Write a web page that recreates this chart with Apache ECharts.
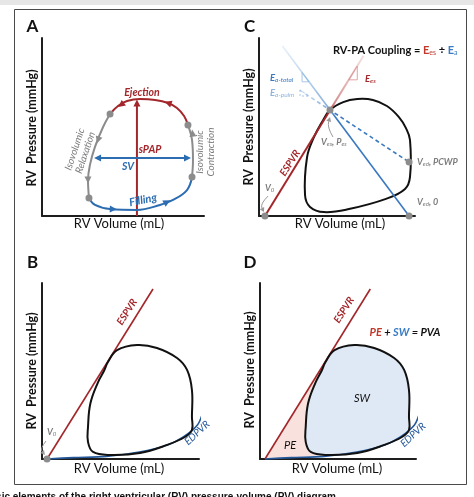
<!DOCTYPE html>
<html><head><meta charset="utf-8">
<script src="https://cdn.jsdelivr.net/npm/echarts/dist/echarts.min.js"></script>
<style>html,body{margin:0;padding:0;background:#fff}#c{width:474px;height:497px}</style>
</head><body><div id="c"></div><script>
// ---------- DATA (schematic units: 0-100 along each axis) ----------
// Panel A: PV loop phases
const aEjection    = [[90.1,51.1],[87.7,56.2],[83.3,60.7],[77.8,63.5],[69.8,65.2],[60.5,65.7],[52.5,64.6],[46.9,61.8],[42,57.3]];
const aRelaxation  = [[42,57.3],[37.7,50],[32.7,38.8],[29.6,28.7],[28.4,20.2],[29,10.1]];
const aFilling     = [[29,10.1],[32.7,6.2],[42,3.9],[58.6,3.4],[72.8,6.2],[80.9,9],[89.5,14.6],[92.6,21.9]];
const aContraction = [[92.6,21.9],[93.2,31.5],[92.6,42.7],[90.1,51.1]];
const aCorners     = [[42,57.3],[90.1,51.1],[92.6,21.9],[29,10.1]];
const aSPAP        = [[58.6,0],[58.6,63.5]];
const aSV          = [[34.3,32.6],[89.8,32.6]];
// arrowheads: [x, y, dirX, dirY]
const aArrowsRed   = [[77.8,63.5,-1,0.33],[48.8,62.4,-1,-0.7],[58.6,63.5,0,1]];
const aArrowsBlue  = [[44,3.8,1,-0.03],[77.2,7.9,1,0.5],[34.3,32.6,-1,0],[89.8,32.6,1,0]];
const aArrowsGrey  = [[92.9,46.6,-0.12,1],[34.6,42.7,-0.35,-1],[28.4,20.2,0.02,-1]];

// Panel C: coupling
const cLoop   = [[45.5,59.5],[54,64],[63,65.7],[73,65.2],[82,61.8],[89.7,55.6],[94.2,49.4],[96.8,42.7],[96.8,22],[93.6,15.2],[81.4,9.6],[57.7,3.9],[41.7,2.2],[32.7,5.1],[29.5,11.8],[30.8,33],[35.3,44.4],[40.4,52.8]];
const cEspvr  = [[3.8,0],[67,90]];
const cEaTotal= [[15,95.5],[96.2,0]];
const cEaPulm = [[26,70.8],[96.2,30.3]];
const cPoints = [[3.8,0],[45.5,59.6],[96.2,30.3],[96.2,0]];
const cEesTri = [[57.5,76.5],[63,76.5],[63,84.3]];
const cEaTTri = [[27.6,80.6],[27.6,75.4],[32.1,75.4]];
const cEaPTri = [[26.3,70.8],[26.3,67.4],[32,67.4]];
const cPointers = [ [[5.8,11.2],[0.6,6.7],[3.2,2.2]], [[47.4,44.4],[43.6,50],[45.5,55.6]] ];

// Panels B & D: loop, ESPVR, EDPVR
const pvLoop = [[42,55.1],[47.8,61.9],[60.5,64.8],[73.2,63.1],[86,57.4],[92.4,50.6],[95.5,39.2],[95.5,23.9],[95.5,16.5],[91,12.5],[79.6,8],[62.4,3.4],[43.3,2.3],[32.5,4],[29.3,9.7],[29.3,18.2],[30.8,31.5],[35.5,43.3],[39.6,50.3]];
const espvr  = [[3.2,0],[70.7,96.6]];
const edpvr  = [[3.2,0],[20,0.8],[41,1.5],[62,4],[80,8],[90,12.5],[99,19.3],[102.5,26.7]];
const bV0    = [[3.2,0]];
const bPointers = [ [[2.5,10.2],[-1.3,5.7],[1.9,2.3]] ];

// ---------- STYLE ----------
const FONT = 'Lato, "Open Sans", "Liberation Sans", sans-serif';
const RED='#a3262a', BLUE='#2c6cb0', NAVY='#24589a', GREY='#8c8c8c', LBLUE='#8fb4dc', TXTGREY='#7d7d7d';
const grids = [
  {left:42, top:38, width:162, height:178},   // A
  {left:259, top:38, width:156, height:178},  // C
  {left:42, top:283, width:157, height:176},  // B
  {left:260, top:283, width:156, height:176}  // D
];
const chart = echarts.init(document.getElementById('c'), null, {renderer:'canvas'});

function ax(gi){ return {gridIndex:gi, type:'value', min:0, max:100,
  axisLine:{show:true, onZero:false, lineStyle:{color:'#1e1e1e', width:2}},
  axisTick:{show:false}, axisLabel:{show:false}, splitLine:{show:false}}; }
function lineS(gi, data, color, width, extra){
  return Object.assign({type:'line', xAxisIndex:gi, yAxisIndex:gi, data:data.map(function(p){return p.slice();}), symbol:'none', showSymbol:false,
    silent:true, clip:false, smooth:0, z:3, animation:false, lineStyle:{color:color, width:width}}, extra||{});
}
function polyS(gi, pts, style, smooth, z){
  return {type:'custom', xAxisIndex:gi, yAxisIndex:gi, data:[[50,50]], silent:true, z:z||3, clip:false,
    renderItem:function(p, api){ return {type:'polygon', shape:{points:pts.map(function(q){return api.coord(q);}), smooth:smooth||0}, style:Object.assign({}, style)}; }};
}
function dotS(gi, data){
  return {type:'scatter', xAxisIndex:gi, yAxisIndex:gi, data:data.map(function(p){return p.slice();}), symbol:'circle', symbolSize:7, silent:true, z:6,
    itemStyle:{color:GREY, opacity:1}};
}
function arrowS(gi, list, color, size){
  const g = grids[gi];
  return {type:'scatter', xAxisIndex:gi, yAxisIndex:gi, symbol:'triangle', symbolSize:size||7, silent:true, z:7,
    itemStyle:{color:color, opacity:1},
    data:list.map(function(a){ return {value:[a[0],a[1]], symbolRotate: Math.atan2(a[3]*g.height, a[2]*g.width)*180/Math.PI - 90}; })};
}
function pointerS(gi, curves, color){
  return {type:'custom', xAxisIndex:gi, yAxisIndex:gi, data:curves.map(function(){return [50,50];}), silent:true, z:6, clip:false,
    renderItem:function(p, api){
      const c = curves[p.dataIndex];
      const p0=api.coord(c[0]), p1=api.coord(c[1]), p2=api.coord(c[2]);
      const ang=Math.atan2(p2[1]-p1[1], p2[0]-p1[0]), L=4.5, W=2.5;
      const base=[p2[0]-L*Math.cos(ang), p2[1]-L*Math.sin(ang)];
      const l=[base[0]+W*Math.sin(ang), base[1]-W*Math.cos(ang)], r=[base[0]-W*Math.sin(ang), base[1]+W*Math.cos(ang)];
      return {type:'group', children:[
        {type:'bezierCurve', shape:{x1:p0[0],y1:p0[1],cpx1:p1[0],cpy1:p1[1],x2:base[0],y2:base[1]}, style:{stroke:color, fill:null, lineWidth:1}},
        {type:'polygon', shape:{points:[p2,l,r]}, style:{fill:color}}
      ]};
    }};
}
function grad(stops){ return {type:'linear', x:0, y:0, x2:0, y2:1, colorStops:stops.map(function(s){return {offset:s[0], color:s[1]};})}; }

// PE region for panel D: ESPVR foot -> end-systolic point -> down the loop's left side -> back along EDPVR
const peRegion = [espvr[0], pvLoop[0]].concat(pvLoop.slice(12).reverse()).concat([edpvr[1], edpvr[0]]);

const pulmGrad = grad([[0,'rgba(150,190,230,0.3)'],[0.28,'rgba(100,150,210,0.85)'],[0.32,'#3a78c0'],[1,'#3a78c0']]);
const series = [
  // ---- A ----
  lineS(0, aSPAP, RED, 2),
  lineS(0, aSV, BLUE, 2),
  lineS(0, aEjection, RED, 2, {smooth:0.4}),
  lineS(0, aRelaxation, GREY, 2, {smooth:0.4}),
  lineS(0, aFilling, BLUE, 2, {smooth:0.4}),
  lineS(0, aContraction, GREY, 2, {smooth:0.4}),
  dotS(0, aCorners),
  arrowS(0, aArrowsRed, RED),
  arrowS(0, aArrowsBlue, BLUE),
  arrowS(0, aArrowsGrey, GREY),
  // ---- C ----
  polyS(1, cEesTri, {fill:null, stroke:'#e3a3a3', lineWidth:1}, 0, 2),
  polyS(1, cEaTTri, {fill:null, stroke:'#a9c7e6', lineWidth:1}, 0, 2),
  polyS(1, cEaPTri, {fill:null, stroke:'#a9c7e6', lineWidth:1, lineDash:[2,2]}, 0, 2),
  polyS(1, cLoop, {fill:null, stroke:'#111', lineWidth:2}, 0.4, 3),
  lineS(1, cEspvr, grad([[0,'rgba(220,150,150,0.25)'],[0.3,'rgba(205,120,120,0.85)'],[0.36,RED],[1,RED]]), 2, {z:4}),
  lineS(1, cEaTotal, grad([[0,'rgba(150,190,230,0.2)'],[0.36,'rgba(110,160,215,0.85)'],[0.42,'#3a78c0'],[1,'#3a78c0']]), 1.6, {z:4}),
  lineS(1, cEaPulm, pulmGrad, 1.6, {z:4, lineStyle:{color:pulmGrad, width:1.6, type:[4,3]}}),
  dotS(1, cPoints),
  pointerS(1, cPointers, '#999'),
  // ---- B ----
  lineS(2, espvr, RED, 1.6),
  lineS(2, edpvr, NAVY, 1.6, {smooth:0.3}),
  polyS(2, pvLoop, {fill:null, stroke:'#111', lineWidth:2}, 0.4, 4),
  dotS(2, bV0),
  pointerS(2, bPointers, '#999'),
  // ---- D ----
  polyS(3, peRegion, {fill:'#f9e2de', stroke:null}, 0, 1),
  polyS(3, pvLoop, {fill:'#dfe9f5', stroke:null}, 0.4, 2),
  lineS(3, espvr, RED, 1.6),
  lineS(3, edpvr, NAVY, 1.6, {smooth:0.3}),
  polyS(3, pvLoop, {fill:null, stroke:'#111', lineWidth:2}, 0.4, 4)
];

// ---------- TEXT ----------
function T(x, y, text, st, rot){
  return {type:'text', x:x, y:y, rotation:rot||0, silent:true, z:100,
    style:Object.assign({text:text, fontFamily:FONT, fontSize:10, fill:'#111', align:'center', verticalAlign:'middle'}, st||{})};
}
function subRich(color, main, sub){
  return {m:{fontFamily:FONT, fontSize:main, fontStyle:'italic', fontWeight:'bold', fill:color, color:color, lineHeight:main+2},
          s:{fontFamily:FONT, fontSize:sub, fontStyle:'italic', fill:color, color:color, verticalAlign:'bottom', lineHeight:sub+1}};
}
const it = function(c, sz, w){ return {fill:c, fontStyle:'italic', fontWeight:w||'bold', fontSize:sz||10}; };
const R90 = Math.PI/2;
const texts = [
  {type:'rect', shape:{x:0,y:0,width:474,height:5}, style:{fill:'#e6e6e6'}, silent:true},
  {type:'rect', shape:{x:14.5,y:9.5,width:452,height:475}, style:{fill:null, stroke:'#4a4a4a', lineWidth:1}, silent:true},
  T(32.5,27,'A',{fontSize:17,fontWeight:'bold',fill:'#111'}),
  T(249.5,27,'C',{fontSize:17,fontWeight:'bold',fill:'#111'}),
  T(32.5,263,'B',{fontSize:17,fontWeight:'bold',fill:'#111'}),
  T(250,263,'D',{fontSize:17,fontWeight:'bold',fill:'#111'}),
  T(32,128,'RV  Pressure (mmHg)',{fontSize:12.5,fontWeight:'bold'},R90),
  T(249,127,'RV  Pressure (mmHg)',{fontSize:12.5,fontWeight:'bold'},R90),
  T(32,371,'RV  Pressure (mmHg)',{fontSize:12.5,fontWeight:'bold'},R90),
  T(250,370,'RV  Pressure (mmHg)',{fontSize:12.5,fontWeight:'bold'},R90),
  T(119,224,'RV Volume (mL)',{fontSize:13}),
  T(340,224,'RV Volume (mL)',{fontSize:13}),
  T(119,469,'RV Volume (mL)',{fontSize:13}),
  T(337,469,'RV Volume (mL)',{fontSize:13}),
  // A labels
  T(142,93,'Ejection',it(RED,10.5)),
  T(150,150,'sPAP',it(RED,10.5)),
  T(128,167,'SV',it(BLUE,10.5)),
  T(143,200,'Filling',it(BLUE,11),0.2),
  T(80,151,'Isovolumic\nRelaxation',Object.assign(it(TXTGREY,10,'normal'),{lineHeight:11}),1.25),
  T(205,152,'Isovolumic\nContraction',Object.assign(it(TXTGREY,10,'normal'),{lineHeight:11}),R90),
  // C labels
  T(333,50,'{k|RV-PA Coupling = }{r|E}{rs|es}{k| ÷ }{b|E}{bs|a}',{align:'left', rich:{
    k:{fontFamily:FONT,fontSize:11,fontWeight:'bold',fill:'#111',lineHeight:13},
    r:{fontFamily:FONT,fontSize:11,fontWeight:'bold',fill:'#c0392b',lineHeight:13},
    rs:{fontFamily:FONT,fontSize:7,fill:'#c0392b',verticalAlign:'bottom',lineHeight:8},
    b:{fontFamily:FONT,fontSize:11,fontWeight:'bold',fill:'#3a7cc4',lineHeight:13},
    bs:{fontFamily:FONT,fontSize:7,fill:'#3a7cc4',verticalAlign:'bottom',lineHeight:8}}}),
  T(270,78,'{m|E}{s|a-total}',{align:'left', rich:subRich('#3a78c0',9.5,6.5)}),
  T(270,93,'{m|E}{s|a-pulm}',{align:'left', rich:subRich(LBLUE,9.5,6.5)}),
  T(365,79,'{m|E}{s|es}',{align:'left', rich:subRich(RED,9.5,6.5)}),
  T(290,163,'ESPVR',it(RED,10),1.01),
  T(321,142,'{m|V}{s|es}{m|, P}{s|es}',{align:'left', rich:subRich(TXTGREY,9,6)}),
  T(417,162,'{m|V}{s|ed}{m|, PCWP}',{align:'left', rich:subRich(TXTGREY,9,6)}),
  T(417,202,'{m|V}{s|ed}{m|, 0}',{align:'left', rich:subRich(TXTGREY,9,6)}),
  T(265,188,'{m|V}{s|0}',{align:'left', rich:subRich(TXTGREY,9,6)}),
  // B labels
  T(127,312,'ESPVR',it(RED,10),1.01),
  T(197,433,'EDPVR',it(NAVY,10,'normal'),0.75),
  T(47,432,'{m|V}{s|0}',{align:'left', rich:subRich(TXTGREY,9,6)}),
  // D labels
  T(344,310,'ESPVR',it(RED,10),1.01),
  T(413,435,'EDPVR',it(NAVY,10,'normal'),0.75),
  T(405,332,'{r|PE}{k| + }{b|SW}{k| = PVA}',{rich:{
    r:{fontFamily:FONT,fontSize:11,fontStyle:'italic',fontWeight:'bold',fill:'#c0392b'},
    k:{fontFamily:FONT,fontSize:11,fontStyle:'italic',fontWeight:'bold',fill:'#111'},
    b:{fontFamily:FONT,fontSize:11,fontStyle:'italic',fontWeight:'bold',fill:'#3a7cc4'}}}),
  T(362,398,'SW',{fontSize:11,fontStyle:'italic'}),
  T(290,445,'PE',{fontSize:11,fontStyle:'italic'}),
  // caption (cut off at bottom edge)
  T(336,497,'Basic elements of the right ventricular (RV) pressure-volume (PV) diagram',{align:'right',fontSize:10,fontWeight:'bold',fontFamily:'"Liberation Sans", Arial, sans-serif'})
];

chart.setOption({
  animation:false,
  grid: grids.map(function(g){ return Object.assign({containLabel:false, outerBoundsMode:'none'}, g); }),
  xAxis:[ax(0),ax(1),ax(2),ax(3)],
  yAxis:[ax(0),ax(1),ax(2),ax(3)],
  series: series,
  graphic: texts
});
</script></body></html>
